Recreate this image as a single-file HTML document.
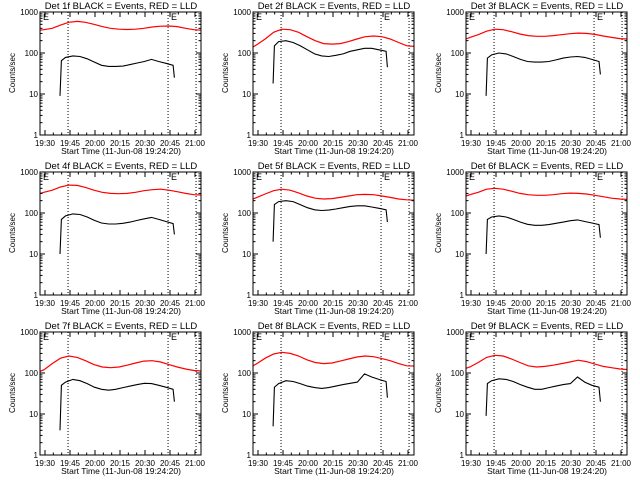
<!DOCTYPE html>
<html><head><meta charset="utf-8"><style>
html,body{margin:0;padding:0;background:#fff;}
svg{display:block;font-family:"Liberation Sans",sans-serif;}
</style></head><body>
<svg id="c" width="640" height="480" viewBox="0 0 640 480"></svg>
<script>
const detNames = ["1f","2f","3f","4f","5f","6f","7f","8f","9f"];
const redTimes = [0,5,10,15,20,25,30,35,40,45,50,55,60,65,70,75,80,85,90,95,100];
const blackTimes = [14.7,15.5,18,22.4,26.7,31,35.3,39.6,43.9,48.1,52.4,56.7,61,65.3,69.6,73.9,78.2,82.5,83.3];
const red1 = [360,370,400,480,560,590,560,500,440,400,380,375,380,400,430,450,455,440,400,370,360];
const blk1 = [9,65,78,85,82,72,60,50,47,47,48,52,57,62,70,62,56,50,25];
const red2 = [140,160,220,320,380,370,320,250,200,170,165,170,190,220,250,260,250,220,180,150,145];
const blk2 = [18,150,190,200,180,150,120,95,85,82,88,95,110,120,130,130,120,110,45];
const red3 = [220,240,280,340,380,370,330,290,265,255,255,265,280,295,305,300,285,260,240,225,220];
const blk3 = [9,75,90,100,95,82,70,62,60,60,62,68,75,80,82,78,70,62,30];
const red4 = [300,320,360,430,480,470,420,360,320,300,295,300,320,350,370,380,360,330,300,280,275];
const blk4 = [10,70,85,95,92,80,66,57,54,54,56,60,66,72,78,70,62,55,30];
const red5 = [220,240,290,350,380,360,310,260,230,220,225,240,260,280,285,280,260,240,220,210,205];
const blk5 = [20,160,190,200,190,160,135,120,115,118,125,135,145,150,150,140,130,120,60];
const red6 = [260,280,320,380,400,380,340,300,280,270,270,280,295,305,300,290,270,250,230,220,215];
const blk6 = [10,70,80,85,80,70,60,53,50,50,52,56,60,65,68,62,57,52,25];
const red7 = [110,120,170,230,260,240,200,160,140,135,140,155,175,195,200,185,160,140,125,115,112];
const blk7 = [4,50,60,70,65,55,45,40,38,40,44,48,52,56,55,50,45,40,20];
const red8 = [150,170,230,290,320,300,260,210,180,170,175,195,220,245,260,250,225,200,170,150,148];
const blk8 = [5,45,55,65,62,55,48,44,42,44,48,52,56,60,95,80,70,62,25];
const red9 = [130,140,180,240,270,260,220,180,150,140,145,155,170,185,205,190,165,145,135,125,122];
const blk9 = [9,55,65,72,70,62,52,45,40,40,44,48,52,55,80,60,50,45,20];
const reds = [red1,red2,red3,red4,red5,red6,red7,red8,red9];
const blks = [blk1,blk2,blk3,blk4,blk5,blk6,blk7,blk8,blk9];
const xTickLabels = ["19:30","19:45","20:00","20:15","20:30","20:45","21:00"];
const yTickLabels = ["1","10","100","1000"];
const dottedTimes = [19.5,79.5,96.3];

const NS = "http://www.w3.org/2000/svg";
const svg = document.getElementById("c");
function mk(tag, attrs, parent){const e=document.createElementNS(NS,tag);for(const k in attrs)e.setAttribute(k,attrs[k]);(parent||svg).appendChild(e);return e;}

for(let p=0;p<9;p++){
  const col=p%3,row=Math.floor(p/3);
  const ox=col*213, oy=row*160;
  const L=ox+40,R=ox+201,T=oy+12,B=oy+135;
  const xs = t => ox+45+(t-5.67)*25/15;
  const ys = v => B-(Math.log10(v))*(B-T)/3;
  const g = mk("g",{});
  
  
  const title = mk("text",{x:ox+121,y:oy+9,"font-size":"9.5","text-anchor":"middle",fill:"#000"},g);
  title.textContent="Det "+detNames[p]+" BLACK = Events, RED = LLD";
  
  
  dottedTimes.forEach(t=>{const l=mk("line",{x1:xs(t),x2:xs(t),y1:T,y2:B,stroke:"#000","stroke-width":"1","stroke-dasharray":"1,2"},g);
    
    });
  [L+3,xs(dottedTimes[1])+3].forEach(x=>{const e=mk("text",{x:x,y:T+8,"font-size":"9",fill:"#000"},g);e.textContent="E";
    
    });
  let d="";
  redTimes.forEach((t,i)=>{let x=Math.max(L,Math.min(R,xs(t)));d+=(i?"L":"M")+x.toFixed(1)+","+ys(reds[p][i]).toFixed(1);});
  const rl=mk("path",{d:d,fill:"none",stroke:"#ff0000","stroke-width":"1.2"},g);
  
  
  d="";
  blackTimes.forEach((t,i)=>{d+=(i?"L":"M")+xs(t).toFixed(1)+","+ys(blks[p][i]).toFixed(1);});
  const bl=mk("path",{d:d,fill:"none",stroke:"#000","stroke-width":"1.1"},g);
  
  
  const box=mk("rect",{x:L,y:T,width:R-L,height:B-T,fill:"none",stroke:"#000","stroke-width":"1"},g);
  
  
  for(let k=0;k<4;k++){
    const y=ys(Math.pow(10,k));
    mk("line",{x1:L,x2:L+5,y1:y,y2:y,stroke:"#000"},g);
    mk("line",{x1:R,x2:R-5,y1:y,y2:y,stroke:"#000"},g);
    const tl=mk("text",{x:L-2,y:y+3,"font-size":"8","text-anchor":"end",fill:"#000"},g);
    tl.textContent=yTickLabels[k];
    
    
    if(k<3)for(let m=2;m<10;m++){const yy=ys(m*Math.pow(10,k));
      mk("line",{x1:L,x2:L+2.5,y1:yy,y2:yy,stroke:"#000"},g);
      mk("line",{x1:R,x2:R-2.5,y1:yy,y2:yy,stroke:"#000"},g);}
  }
  xTickLabels.forEach((lab,i)=>{const t=5.67+15*i,x=xs(t);
    mk("line",{x1:x,x2:x,y1:B,y2:B-5,stroke:"#000"},g);
    mk("line",{x1:x,x2:x,y1:T,y2:T+5,stroke:"#000"},g);
    for(let m=1;m<3;m++){const xm=xs(t+5*m);if(xm<R){mk("line",{x1:xm,x2:xm,y1:B,y2:B-2.5,stroke:"#000"},g);mk("line",{x1:xm,x2:xm,y1:T,y2:T+2.5,stroke:"#000"},g);}}
    const tl=mk("text",{x:x,y:B+11,"font-size":"8","text-anchor":"middle",fill:"#000"},g);
    tl.textContent=lab;
    
    });
  const xt=mk("text",{x:ox+121,y:B+19,"font-size":"8.5","text-anchor":"middle",fill:"#000"},g);
  xt.textContent="Start Time (11-Jun-08 19:24:20)";
  
  
  const yt=mk("text",{x:0,y:0,"font-size":"8","text-anchor":"middle",fill:"#000",transform:"translate("+(ox+15)+","+(oy+73)+") rotate(-90)"},g);
  yt.textContent="Counts/sec";
  
  
}
</script>
</body></html>
